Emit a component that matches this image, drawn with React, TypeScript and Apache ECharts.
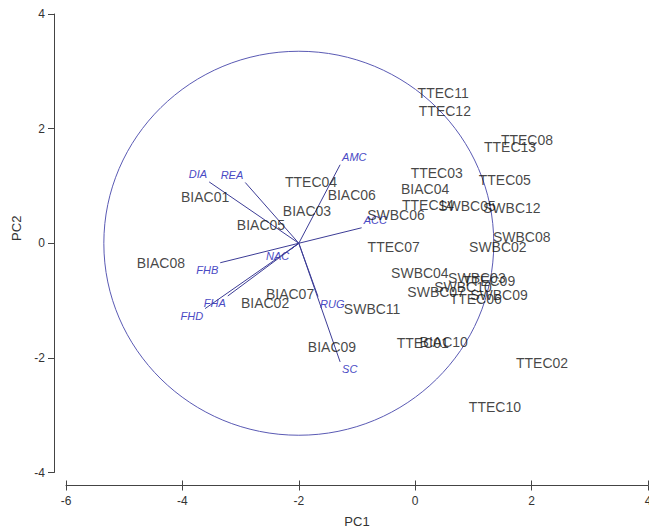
import React, { useEffect, useRef } from "react";
import * as echarts from "echarts";

// Sample scores (PC1, PC2)
const sampleNames = [
  "BIAC01", "BIAC02", "BIAC03", "BIAC04", "BIAC05", "BIAC06", "BIAC07", "BIAC08", "BIAC09", "BIAC10",
  "SWBC02", "SWBC03", "SWBC04", "SWBC05", "SWBC06", "SWBC07", "SWBC08", "SWBC09", "SWBC10", "SWBC11", "SWBC12",
  "TTEC01", "TTEC02", "TTEC03", "TTEC04", "TTEC05", "TTEC06", "TTEC07", "TTEC08", "TTEC09", "TTEC10",
  "TTEC11", "TTEC12", "TTEC13", "TTEC14",
];
const samplePC1 = [
  -3.61, -2.58, -1.86, 0.17, -2.65, -1.09, -2.15, -4.37, -1.43, 0.49,
  1.42, 1.06, 0.08, 0.89, -0.33, 0.36, 1.83, 1.44, 0.82, -0.74, 1.66,
  0.13, 2.18, 0.37, -1.79, 1.54, 1.04, -0.37, 1.92, 1.27, 1.37,
  0.48, 0.51, 1.63, 0.22,
];
const samplePC2 = [
  0.81, -1.04, 0.57, 0.95, 0.32, 0.85, -0.88, -0.34, -1.81, -1.72,
  -0.06, -0.6, -0.52, 0.65, 0.5, -0.85, 0.11, -0.9, -0.76, -1.14, 0.62,
  -1.74, -2.09, 1.23, 1.06, 1.11, -0.97, -0.06, 1.81, -0.65, -2.85,
  2.63, 2.3, 1.68, 0.67,
];

// Variable loadings (vector end points)
const loadingNames = ["DIA", "REA", "AMC", "ACC", "FHB", "NAC", "FHA", "FHD", "RUG", "SC"];
const loadingPC1 = [-3.54, -2.92, -1.29, -0.92, -3.35, -2.13, -3.22, -3.61, -1.67, -1.29];
const loadingPC2 = [1.07, 1.06, 1.37, 0.27, -0.34, -0.1, -0.92, -1.14, -0.93, -2.07];
const loadingOrigin = [-2, 0];

// Correlation circle
const circleCenter = [-2, 0];
const circleRadius = 3.35;

const xRange = { min: -6, max: 4, interval: 2 };
const yRange = { min: -4, max: 4, interval: 2 };

const FONT = "'Liberation Sans', Arial, sans-serif";

export default function App() {
  const ref = useRef<HTMLDivElement>(null);

  useEffect(() => {
    if (!ref.current) return;
    const chart = echarts.init(ref.current, null, { renderer: "svg" });

    const axisColor = "#444";
    const option: any = {
      animation: false,
      backgroundColor: "#ffffff",
      grid: {
        left: 66,
        width: 582,
        top: 14,
        height: 458.5,
        containLabel: false,
        outerBoundsMode: "none",
      },
      xAxis: [
        {
          type: "value",
          min: xRange.min,
          max: xRange.max,
          interval: xRange.interval,
          position: "bottom",
          offset: 13,
          name: "PC1",
          nameLocation: "middle",
          nameGap: 29,
          nameTextStyle: { fontFamily: FONT, fontSize: 13, color: "#333" },
          axisLine: { show: true, onZero: false, lineStyle: { color: axisColor, width: 1 } },
          axisTick: { show: true, length: 5, lineStyle: { color: axisColor } },
          axisLabel: { margin: 9, fontFamily: FONT, fontSize: 12, color: "#333" },
          splitLine: { show: false },
        },
        {
          type: "value",
          min: xRange.min,
          max: xRange.max,
          interval: xRange.interval,
          position: "bottom",
          offset: 13,
          axisLine: { show: false, onZero: false },
          axisTick: { show: true, inside: true, length: 5, lineStyle: { color: axisColor } },
          axisLabel: { show: false },
          splitLine: { show: false },
        },
      ],
      yAxis: {
        type: "value",
        min: yRange.min,
        max: yRange.max,
        interval: yRange.interval,
        position: "left",
        offset: 12,
        name: "PC2",
        nameLocation: "middle",
        nameGap: 30,
        nameTextStyle: { fontFamily: FONT, fontSize: 13, color: "#333", padding: [0, 0, 0, 30] },
        axisLine: { show: true, onZero: false, lineStyle: { color: axisColor, width: 1 } },
        axisTick: { show: true, length: 6, lineStyle: { color: axisColor } },
        axisLabel: { margin: 9, fontFamily: FONT, fontSize: 12, color: "#333" },
        splitLine: { show: false },
      },
      series: [
        {
          type: "custom",
          xAxisIndex: 0,
          clip: false,
          silent: true,
          data: [[circleCenter[0], circleCenter[1], circleRadius]],
          renderItem: (params: any, api: any) => {
            const c = api.coord([api.value(0), api.value(1)]);
            const s = api.size([api.value(2), api.value(2)]);
            return {
              type: "ellipse",
              shape: { cx: c[0], cy: c[1], rx: s[0], ry: s[1] },
              style: { fill: "none", stroke: "#5a5ab4", lineWidth: 1 },
            };
          },
        },
        {
          type: "custom",
          xAxisIndex: 0,
          clip: false,
          silent: true,
          data: loadingNames.map((n, i) => [loadingPC1[i], loadingPC2[i]]),
          renderItem: (params: any, api: any) => {
            const o = api.coord(loadingOrigin);
            const e = api.coord([api.value(0), api.value(1)]);
            const dx = e[0] - o[0];
            const dy = e[1] - o[1];
            const align = dx < 0 ? "right" : "left";
            const vAlign = dy < 0 ? "bottom" : "top";
            return {
              type: "group",
              children: [
                {
                  type: "line",
                  shape: { x1: o[0], y1: o[1], x2: e[0], y2: e[1] },
                  style: { stroke: "#3c3c96", lineWidth: 1 },
                },
                {
                  type: "text",
                  style: {
                    text: loadingNames[params.dataIndex],
                    x: e[0] + (dx < 0 ? -2 : 2),
                    y: e[1] + (dy < 0 ? -2 : 2),
                    fill: "#4a4ac4",
                    font: "italic 11px " + FONT,
                    align,
                    verticalAlign: vAlign,
                    textAlign: align,
                    textVerticalAlign: vAlign,
                  },
                },
              ],
            };
          },
        },
        {
          type: "scatter",
          xAxisIndex: 0,
          silent: true,
          symbolSize: 1,
          itemStyle: { color: "rgba(0,0,0,0)" },
          data: sampleNames.map((n, i) => ({ name: n, value: [samplePC1[i], samplePC2[i]] })),
          label: {
            show: true,
            position: "inside",
            formatter: (p: any) => p.name,
            fontFamily: FONT,
            fontSize: 14,
            color: "#141414",
          },
          labelLayout: { hideOverlap: false },
        },
      ],
    };

    chart.setOption(option);
    return () => chart.dispose();
  }, []);

  return (
    <div
      ref={ref}
      style={{ position: "absolute", left: 0, top: 0, width: 649, height: 530 }}
    />
  );
}
